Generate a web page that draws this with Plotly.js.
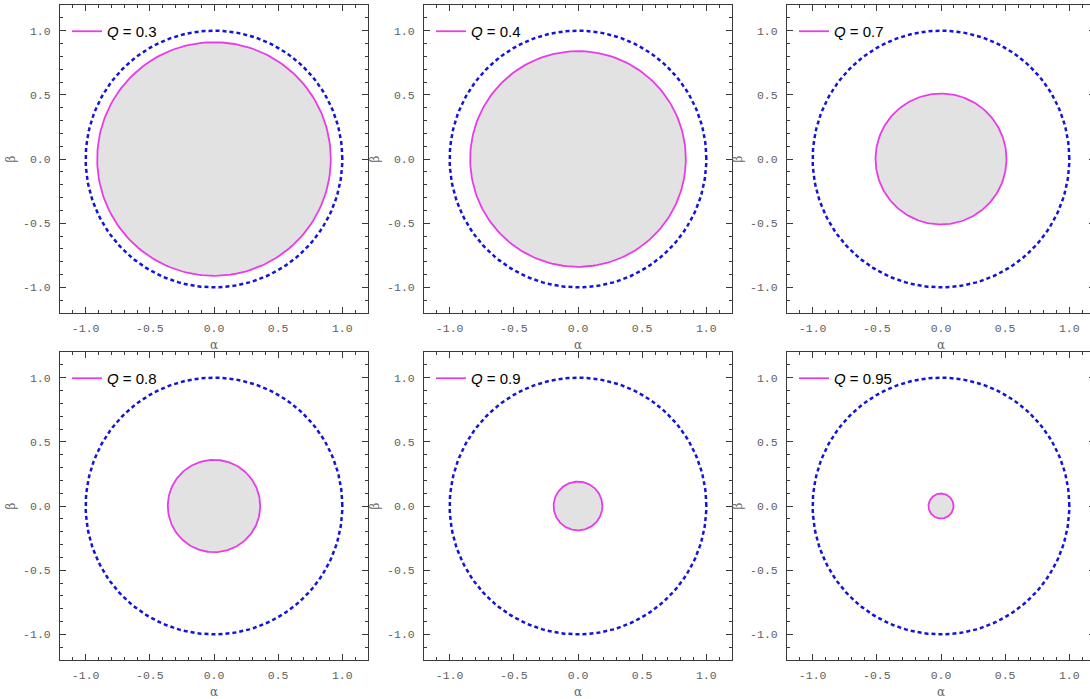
<!DOCTYPE html>
<html>
<head>
<meta charset="utf-8">
<script src="https://cdn.plot.ly/plotly-3.0.1.min.js"></script>
<style>
  html, body { margin: 0; padding: 0; overflow: hidden; background: #fff; }
  #chart { width: 1100px; height: 699px; }
</style>
</head>
<body>
<div id="chart"></div>
<script>
// ---- data ----
const chargeLabels = ['0.3', '0.4', '0.7', '0.8', '0.9', '0.95'];
const shadowRadius = [0.91, 0.84, 0.51, 0.36, 0.19, 0.0975];   // magenta / grey disc
const outerRadius  = [1, 1, 1, 1, 1, 1];                          // blue dashed circle
const tickValues = [-1, -0.5, 0, 0.5, 1];
const tickLabels = ['-1.0', '-0.5', '0.0', '0.5', '1.0'];
const axisRange = [-1.2, 1.2];

// ---- layout geometry (pixels) ----
const W = 1100, H = 699;
const colLeft = [60, 424, 787];
const rowTop = [5, 352];
const boxSize = 308;

function circle(r) {
  const xs = [], ys = [], n = 180;
  for (let i = 0; i <= n; i++) {
    const t = 2 * Math.PI * i / n;
    xs.push(r * Math.cos(t));
    ys.push(r * Math.sin(t));
  }
  return { x: xs, y: ys };
}

const traces = [];
const layout = {
  width: W, height: H,
  margin: { l: 0, r: 0, t: 0, b: 0 },
  paper_bgcolor: '#fff', plot_bgcolor: '#fff',
  showlegend: true
};

chargeLabels.forEach((q, k) => {
  const idx = k + 1;
  const xa = 'x' + (idx === 1 ? '' : idx);
  const ya = 'y' + (idx === 1 ? '' : idx);
  const lg = 'legend' + (idx === 1 ? '' : idx);
  const inner = circle(shadowRadius[k]);
  const outer = circle(outerRadius[k]);

  traces.push({
    x: inner.x, y: inner.y, xaxis: xa, yaxis: ya,
    mode: 'lines', fill: 'toself', fillcolor: '#e2e2e2',
    line: { width: 0, color: 'rgba(0,0,0,0)' },
    showlegend: false, hoverinfo: 'skip'
  });
  traces.push({
    x: inner.x, y: inner.y, xaxis: xa, yaxis: ya,
    mode: 'lines', line: { color: '#e83ce8', width: 1.8 },
    name: '<i>Q</i> = ' + q, legend: lg, showlegend: true
  });
  traces.push({
    x: outer.x, y: outer.y, xaxis: xa, yaxis: ya,
    mode: 'lines', line: { color: '#1414d8', width: 2.5, dash: '4px,3px' },
    showlegend: false, hoverinfo: 'skip'
  });

  const col = k % 3, row = Math.floor(k / 3);
  const x0 = colLeft[col], y0 = rowTop[row];
  const axCommon = {
    range: axisRange, showgrid: false, zeroline: false,
    showline: true, linecolor: '#3a3a3a', linewidth: 1, mirror: 'allticks',
    ticks: 'inside', ticklen: 6, tickwidth: 1, tickcolor: '#3a3a3a',
    tickmode: 'array', tickvals: tickValues, ticktext: tickLabels,
    tickfont: { family: 'Liberation Mono, DejaVu Sans Mono, monospace', size: 11.5, color: '#606060' },
    minor: { dtick: 0.1, tick0: 0, ticks: 'inside', ticklen: 3, tickwidth: 1, tickcolor: '#3a3a3a', showgrid: false },
    fixedrange: true
  };
  layout['xaxis' + (idx === 1 ? '' : idx)] = Object.assign({}, axCommon, {
    domain: [x0 / W, (x0 + boxSize) / W],
    anchor: ya,
    ticklabelstandoff: 4,
    title: { text: 'α', standoff: 6, font: { family: 'DejaVu Serif, serif', size: 12, color: '#666' } }
  });
  layout['yaxis' + (idx === 1 ? '' : idx)] = Object.assign({}, axCommon, {
    domain: [(H - y0 - boxSize) / H, (H - y0) / H],
    anchor: xa,
    ticklabelstandoff: 6,
    title: { text: 'β', standoff: 4, font: { family: 'DejaVu Serif, serif', size: 12, color: '#666' } }
  });
  layout[lg] = {
    x: (x0 + 7) / W, y: (H - y0 - 10) / H,
    xanchor: 'left', yanchor: 'top',
    bgcolor: 'rgba(0,0,0,0)', borderwidth: 0,
    font: { family: 'Liberation Sans, Arial, sans-serif', size: 15, color: '#000' },
    itemwidth: 30
  };
});

Plotly.newPlot('chart', traces, layout, { displayModeBar: false, staticPlot: true });
</script>
</body>
</html>
